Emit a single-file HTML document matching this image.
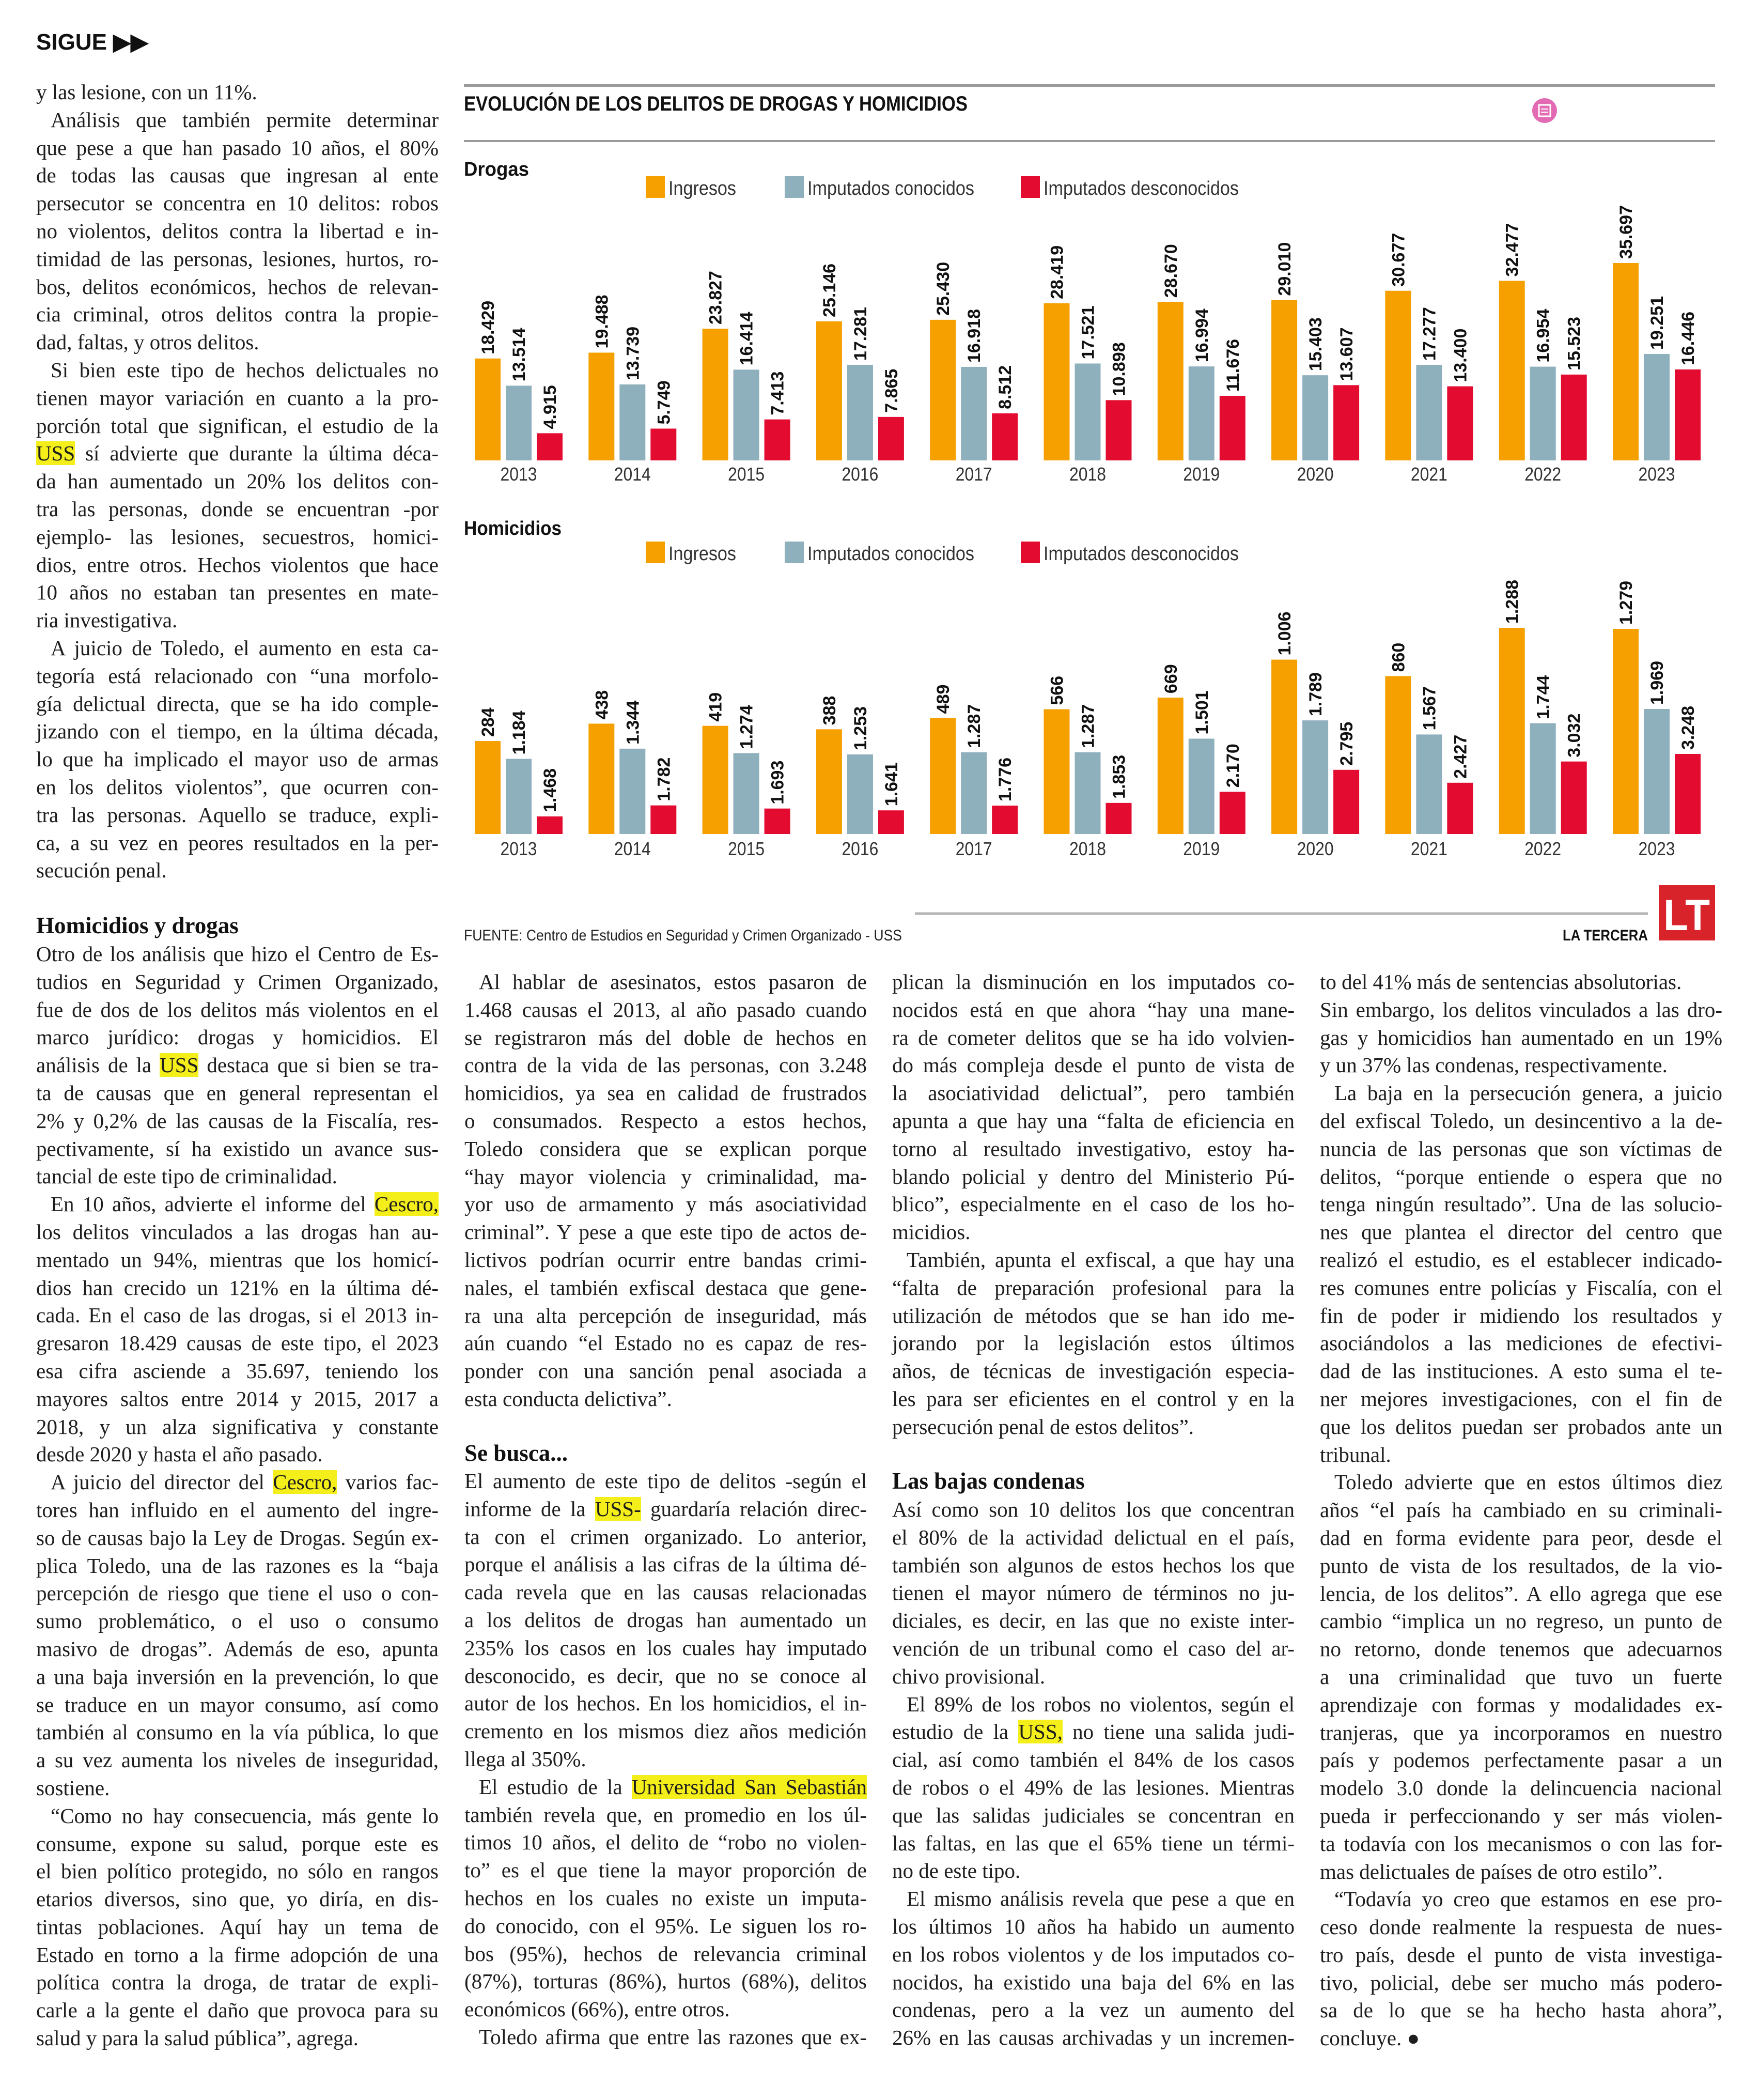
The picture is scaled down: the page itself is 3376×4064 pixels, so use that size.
<!DOCTYPE html>
<html><head><meta charset="utf-8">
<style>
html,body{margin:0;padding:0;background:#fff;}
body{width:3376px;height:4064px;position:relative;overflow:hidden;}
.col{position:absolute;width:779px;font:41px/53.8px "Liberation Serif",serif;color:#1e1e1e;}
.l{white-space:nowrap;text-align:justify;text-align-last:justify;height:53.8px;}
.e{text-align-last:left;}
.i{text-indent:28px;}
.hl{background:#f4ee1a;}
.h{position:absolute;font:bold 45px "Liberation Serif",serif;color:#111;}
svg text{font-family:"Liberation Sans",sans-serif;}
</style></head>
<body>
<div style="position:absolute;left:70px;top:56px;font:bold 44px 'Liberation Sans',sans-serif;color:#111;">SIGUE ▶▶</div>

<div class="col" style="left:70px;top:152px;">
<div class="l e">y las lesione, con un 11%.</div>
<div class="l i">Análisis que también permite determinar</div>
<div class="l">que pese a que han pasado 10 años, el 80%</div>
<div class="l">de todas las causas que ingresan al ente</div>
<div class="l">persecutor se concentra en 10 delitos: robos</div>
<div class="l">no violentos, delitos contra la libertad e in-</div>
<div class="l">timidad de las personas, lesiones, hurtos, ro-</div>
<div class="l">bos, delitos económicos, hechos de relevan-</div>
<div class="l">cia criminal, otros delitos contra la propie-</div>
<div class="l e">dad, faltas, y otros delitos.</div>
<div class="l i">Si bien este tipo de hechos delictuales no</div>
<div class="l">tienen mayor variación en cuanto a la pro-</div>
<div class="l">porción total que significan, el estudio de la</div>
<div class="l"><span class="hl">USS</span> sí advierte que durante la última déca-</div>
<div class="l">da han aumentado un 20% los delitos con-</div>
<div class="l">tra las personas, donde se encuentran -por</div>
<div class="l">ejemplo- las lesiones, secuestros, homici-</div>
<div class="l">dios, entre otros. Hechos violentos que hace</div>
<div class="l">10 años no estaban tan presentes en mate-</div>
<div class="l e">ria investigativa.</div>
<div class="l i">A juicio de Toledo, el aumento en esta ca-</div>
<div class="l">tegoría está relacionado con “una morfolo-</div>
<div class="l">gía delictual directa, que se ha ido comple-</div>
<div class="l">jizando con el tiempo, en la última década,</div>
<div class="l">lo que ha implicado el mayor uso de armas</div>
<div class="l">en los delitos violentos”, que ocurren con-</div>
<div class="l">tra las personas. Aquello se traduce, expli-</div>
<div class="l">ca, a su vez en peores resultados en la per-</div>
<div class="l e">secución penal.</div>
</div>

<div class="h" style="left:70px;top:1765px;">Homicidios y drogas</div>
<div class="col" style="left:70px;top:1820px;">
<div class="l">Otro de los análisis que hizo el Centro de Es-</div>
<div class="l">tudios en Seguridad y Crimen Organizado,</div>
<div class="l">fue de dos de los delitos más violentos en el</div>
<div class="l">marco jurídico: drogas y homicidios. El</div>
<div class="l">análisis de la <span class="hl">USS</span> destaca que si bien se tra-</div>
<div class="l">ta de causas que en general representan el</div>
<div class="l">2% y 0,2% de las causas de la Fiscalía, res-</div>
<div class="l">pectivamente, sí ha existido un avance sus-</div>
<div class="l e">tancial de este tipo de criminalidad.</div>
<div class="l i">En 10 años, advierte el informe del <span class="hl">Cescro,</span></div>
<div class="l">los delitos vinculados a las drogas han au-</div>
<div class="l">mentado un 94%, mientras que los homicí-</div>
<div class="l">dios han crecido un 121% en la última dé-</div>
<div class="l">cada. En el caso de las drogas, si el 2013 in-</div>
<div class="l">gresaron 18.429 causas de este tipo, el 2023</div>
<div class="l">esa cifra asciende a 35.697, teniendo los</div>
<div class="l">mayores saltos entre 2014 y 2015, 2017 a</div>
<div class="l">2018, y un alza significativa y constante</div>
<div class="l e">desde 2020 y hasta el año pasado.</div>
<div class="l i">A juicio del director del <span class="hl">Cescro,</span> varios fac-</div>
<div class="l">tores han influido en el aumento del ingre-</div>
<div class="l">so de causas bajo la Ley de Drogas. Según ex-</div>
<div class="l">plica Toledo, una de las razones es la “baja</div>
<div class="l">percepción de riesgo que tiene el uso o con-</div>
<div class="l">sumo problemático, o el uso o consumo</div>
<div class="l">masivo de drogas”. Además de eso, apunta</div>
<div class="l">a una baja inversión en la prevención, lo que</div>
<div class="l">se traduce en un mayor consumo, así como</div>
<div class="l">también al consumo en la vía pública, lo que</div>
<div class="l">a su vez aumenta los niveles de inseguridad,</div>
<div class="l e">sostiene.</div>
<div class="l i">“Como no hay consecuencia, más gente lo</div>
<div class="l">consume, expone su salud, porque este es</div>
<div class="l">el bien político protegido, no sólo en rangos</div>
<div class="l">etarios diversos, sino que, yo diría, en dis-</div>
<div class="l">tintas poblaciones. Aquí hay un tema de</div>
<div class="l">Estado en torno a la firme adopción de una</div>
<div class="l">política contra la droga, de tratar de expli-</div>
<div class="l">carle a la gente el daño que provoca para su</div>
<div class="l e">salud y para la salud pública”, agrega.</div>
</div>

<div class="col" style="left:899px;top:1874px;">
<div class="l i">Al hablar de asesinatos, estos pasaron de</div>
<div class="l">1.468 causas el 2013, al año pasado cuando</div>
<div class="l">se registraron más del doble de hechos en</div>
<div class="l">contra de la vida de las personas, con 3.248</div>
<div class="l">homicidios, ya sea en calidad de frustrados</div>
<div class="l">o consumados. Respecto a estos hechos,</div>
<div class="l">Toledo considera que se explican porque</div>
<div class="l">“hay mayor violencia y criminalidad, ma-</div>
<div class="l">yor uso de armamento y más asociatividad</div>
<div class="l">criminal”. Y pese a que este tipo de actos de-</div>
<div class="l">lictivos podrían ocurrir entre bandas crimi-</div>
<div class="l">nales, el también exfiscal destaca que gene-</div>
<div class="l">ra una alta percepción de inseguridad, más</div>
<div class="l">aún cuando “el Estado no es capaz de res-</div>
<div class="l">ponder con una sanción penal asociada a</div>
<div class="l e">esta conducta delictiva”.</div>
</div>
<div class="h" style="left:899px;top:2786px;">Se busca...</div>
<div class="col" style="left:899px;top:2840px;">
<div class="l">El aumento de este tipo de delitos -según el</div>
<div class="l">informe de la <span class="hl">USS-</span> guardaría relación direc-</div>
<div class="l">ta con el crimen organizado. Lo anterior,</div>
<div class="l">porque el análisis a las cifras de la última dé-</div>
<div class="l">cada revela que en las causas relacionadas</div>
<div class="l">a los delitos de drogas han aumentado un</div>
<div class="l">235% los casos en los cuales hay imputado</div>
<div class="l">desconocido, es decir, que no se conoce al</div>
<div class="l">autor de los hechos. En los homicidios, el in-</div>
<div class="l">cremento en los mismos diez años medición</div>
<div class="l e">llega al 350%.</div>
<div class="l i">El estudio de la <span class="hl">Universidad San Sebastián</span></div>
<div class="l">también revela que, en promedio en los úl-</div>
<div class="l">timos 10 años, el delito de “robo no violen-</div>
<div class="l">to” es el que tiene la mayor proporción de</div>
<div class="l">hechos en los cuales no existe un imputa-</div>
<div class="l">do conocido, con el 95%. Le siguen los ro-</div>
<div class="l">bos (95%), hechos de relevancia criminal</div>
<div class="l">(87%), torturas (86%), hurtos (68%), delitos</div>
<div class="l e">económicos (66%), entre otros.</div>
<div class="l i">Toledo afirma que entre las razones que ex-</div>
</div>

<div class="col" style="left:1727px;top:1874px;">
<div class="l">plican la disminución en los imputados co-</div>
<div class="l">nocidos está en que ahora “hay una mane-</div>
<div class="l">ra de cometer delitos que se ha ido volvien-</div>
<div class="l">do más compleja desde el punto de vista de</div>
<div class="l">la asociatividad delictual”, pero también</div>
<div class="l">apunta a que hay una “falta de eficiencia en</div>
<div class="l">torno al resultado investigativo, estoy ha-</div>
<div class="l">blando policial y dentro del Ministerio Pú-</div>
<div class="l">blico”, especialmente en el caso de los ho-</div>
<div class="l e">micidios.</div>
<div class="l i">También, apunta el exfiscal, a que hay una</div>
<div class="l">“falta de preparación profesional para la</div>
<div class="l">utilización de métodos que se han ido me-</div>
<div class="l">jorando por la legislación estos últimos</div>
<div class="l">años, de técnicas de investigación especia-</div>
<div class="l">les para ser eficientes en el control y en la</div>
<div class="l e">persecución penal de estos delitos”.</div>
</div>
<div class="h" style="left:1727px;top:2840px;">Las bajas condenas</div>
<div class="col" style="left:1727px;top:2895px;">
<div class="l">Así como son 10 delitos los que concentran</div>
<div class="l">el 80% de la actividad delictual en el país,</div>
<div class="l">también son algunos de estos hechos los que</div>
<div class="l">tienen el mayor número de términos no ju-</div>
<div class="l">diciales, es decir, en las que no existe inter-</div>
<div class="l">vención de un tribunal como el caso del ar-</div>
<div class="l e">chivo provisional.</div>
<div class="l i">El 89% de los robos no violentos, según el</div>
<div class="l">estudio de la <span class="hl">USS,</span> no tiene una salida judi-</div>
<div class="l">cial, así como también el 84% de los casos</div>
<div class="l">de robos o el 49% de las lesiones. Mientras</div>
<div class="l">que las salidas judiciales se concentran en</div>
<div class="l">las faltas, en las que el 65% tiene un térmi-</div>
<div class="l e">no de este tipo.</div>
<div class="l i">El mismo análisis revela que pese a que en</div>
<div class="l">los últimos 10 años ha habido un aumento</div>
<div class="l">en los robos violentos y de los imputados co-</div>
<div class="l">nocidos, ha existido una baja del 6% en las</div>
<div class="l">condenas, pero a la vez un aumento del</div>
<div class="l">26% en las causas archivadas y un incremen-</div>
</div>

<div class="col" style="left:2555px;top:1874px;">
<div class="l e">to del 41% más de sentencias absolutorias.</div>
<div class="l">Sin embargo, los delitos vinculados a las dro-</div>
<div class="l">gas y homicidios han aumentado en un 19%</div>
<div class="l e">y un 37% las condenas, respectivamente.</div>
<div class="l i">La baja en la persecución genera, a juicio</div>
<div class="l">del exfiscal Toledo, un desincentivo a la de-</div>
<div class="l">nuncia de las personas que son víctimas de</div>
<div class="l">delitos, “porque entiende o espera que no</div>
<div class="l">tenga ningún resultado”. Una de las solucio-</div>
<div class="l">nes que plantea el director del centro que</div>
<div class="l">realizó el estudio, es el establecer indicado-</div>
<div class="l">res comunes entre policías y Fiscalía, con el</div>
<div class="l">fin de poder ir midiendo los resultados y</div>
<div class="l">asociándolos a las mediciones de efectivi-</div>
<div class="l">dad de las instituciones. A esto suma el te-</div>
<div class="l">ner mejores investigaciones, con el fin de</div>
<div class="l">que los delitos puedan ser probados ante un</div>
<div class="l e">tribunal.</div>
<div class="l i">Toledo advierte que en estos últimos diez</div>
<div class="l">años “el país ha cambiado en su criminali-</div>
<div class="l">dad en forma evidente para peor, desde el</div>
<div class="l">punto de vista de los resultados, de la vio-</div>
<div class="l">lencia, de los delitos”. A ello agrega que ese</div>
<div class="l">cambio “implica un no regreso, un punto de</div>
<div class="l">no retorno, donde tenemos que adecuarnos</div>
<div class="l">a una criminalidad que tuvo un fuerte</div>
<div class="l">aprendizaje con formas y modalidades ex-</div>
<div class="l">tranjeras, que ya incorporamos en nuestro</div>
<div class="l">país y podemos perfectamente pasar a un</div>
<div class="l">modelo 3.0 donde la delincuencia nacional</div>
<div class="l">pueda ir perfeccionando y ser más violen-</div>
<div class="l">ta todavía con los mecanismos o con las for-</div>
<div class="l e">mas delictuales de países de otro estilo”.</div>
<div class="l i">“Todavía yo creo que estamos en ese pro-</div>
<div class="l">ceso donde realmente la respuesta de nues-</div>
<div class="l">tro país, desde el punto de vista investiga-</div>
<div class="l">tivo, policial, debe ser mucho más podero-</div>
<div class="l">sa de lo que se ha hecho hasta ahora”,</div>
<div class="l e">concluye. ●</div>
</div>

<svg id="chart" width="3376" height="4064" style="position:absolute;left:0;top:0;" xmlns="http://www.w3.org/2000/svg">
<rect x="898" y="163" width="2422" height="5" fill="#9a9a9a"/>
<rect x="898" y="271" width="2422" height="4" fill="#9a9a9a"/>
<text x="898" y="214" font-size="40" font-weight="bold" fill="#111" textLength="975" lengthAdjust="spacingAndGlyphs">EVOLUCIÓN DE LOS DELITOS DE DROGAS Y HOMICIDIOS</text>
<g><circle cx="2990" cy="214" r="24" fill="#e36bb4"/><rect x="2979" y="203" width="22" height="22" fill="none" stroke="#fff" stroke-width="3"/><line x1="2983" y1="211" x2="2997" y2="211" stroke="#fff" stroke-width="2"/><line x1="2983" y1="217" x2="2997" y2="217" stroke="#fff" stroke-width="2"/></g>
<text x="898" y="340" font-size="38" font-weight="bold" fill="#111" textLength="126" lengthAdjust="spacingAndGlyphs">Drogas</text>
<text x="898" y="1035" font-size="38" font-weight="bold" fill="#111" textLength="189" lengthAdjust="spacingAndGlyphs">Homicidios</text>
<line x1="1771" y1="1768" x2="3190" y2="1768" stroke="#b5b5b5" stroke-width="5"/>
<text x="898" y="1820" font-size="30" fill="#222" textLength="848" lengthAdjust="spacingAndGlyphs">FUENTE: Centro de Estudios en Seguridad y Crimen Organizado - USS</text>
<text x="3025" y="1820" font-size="30" font-weight="bold" fill="#111" textLength="165" lengthAdjust="spacingAndGlyphs">LA TERCERA</text>
<g><rect x="3211" y="1713" width="109" height="107" fill="#d8232a"/><text x="3265" y="1800" font-size="84" font-weight="bold" fill="#fff" text-anchor="middle" textLength="90" lengthAdjust="spacingAndGlyphs">LT</text></g>
<g id="plots"></g>
</svg>

<script>
const years = ["2013","2014","2015","2016","2017","2018","2019","2020","2021","2022","2023"];
const seriesNames = ["Ingresos","Imputados conocidos","Imputados desconocidos"];
const drugIngresos = [18429,19488,23827,25146,25430,28419,28670,29010,30677,32477,35697];
const drugConocidos = [13514,13739,16414,17281,16918,17521,16994,15403,17277,16954,19251];
const drugDesconocidos = [4915,5749,7413,7865,8512,10898,11676,13607,13400,15523,16446];
const homIngresos = [284,438,419,388,489,566,669,1006,860,1288,1279];
const homConocidos = [1184,1344,1274,1253,1287,1287,1501,1789,1567,1744,1969];
const homDesconocidos = [1468,1782,1693,1641,1776,1853,2170,2795,2427,3032,3248];

const NS = "http://www.w3.org/2000/svg";
const colors = ["#f6a000","#8eafbc","#e30b30"];
const plots = document.getElementById('plots');
function fmt(v){return v>=1000?String(Math.floor(v/1000))+"."+String(v%1000).padStart(3,"0"):String(v);}
function lin(d0,d1,r0,r1){return v=>r0+(v-d0)*(r1-r0)/(d1-d0);}
function xGroup(i){return 919+i*220.3;}
function xBar(i,s){return xGroup(i)+s*60;}
const BW = 50;

function mk(tag,attrs){const e=document.createElementNS(NS,tag);for(const k in attrs)e.setAttribute(k,attrs[k]);return e;}

function legend(y,name){
  const g=mk('g',{});
  
  
  const sx=[1250,1519,1976], tl=[131,323,378];
  for(let s=0;s<3;s++){
    const r=mk('rect',{x:sx[s],y:y-22,width:37,height:42,fill:colors[s]});
    
    
    g.appendChild(r);
    const t=mk('text',{x:sx[s]+44,y:y+14,'font-size':38,fill:'#333',textLength:tl[s],lengthAdjust:'spacingAndGlyphs'});
    t.textContent=seriesNames[s];
    
    
    g.appendChild(t);
  }
  plots.appendChild(g);
}

function panel(base,yearY,data,scales,name){
  const g=mk('g',{});
  
  
  for(let i=0;i<years.length;i++){
    for(let s=0;s<3;s++){
      const v=data[s][i];
      const top=scales[s](v);
      const x=xBar(i,s);
      const r=mk('rect',{x:x,y:top,width:BW,height:base-top,fill:colors[s]});
      
      
      g.appendChild(r);
      const lx=x+BW/2+12, ly=top-8;
      const t=mk('text',{x:lx,y:ly,'font-size':34,'font-weight':'bold',fill:'#111',transform:'rotate(-90 '+lx+' '+ly+')'});
      t.textContent=fmt(v);
      
      
      g.appendChild(t);
    }
    const yt=mk('text',{x:xGroup(i)+85,y:yearY,'font-size':36,fill:'#333','text-anchor':'middle',textLength:71,lengthAdjust:'spacingAndGlyphs'});
    yt.textContent=years[i];
    
    
    g.appendChild(yt);
  }
  plots.appendChild(g);
}

legend(363,'drogas-legend');
legend(1070,'homicidios-legend');

const dBase=891;
const dScale=lin(0,35697,dBase,dBase-382);
panel(dBase,930,[drugIngresos,drugConocidos,drugDesconocidos],[dScale,dScale,dScale],'drogas-bars');

const hBase=1614;
const hIng=lin(0,1279,hBase-118,hBase-397);
const hCon=lin(0,1969,hBase,hBase-242);
const hDes=lin(1468,3248,hBase-34,hBase-155);
panel(hBase,1655,[homIngresos,homConocidos,homDesconocidos],[hIng,hCon,hDes],'homicidios-bars');
</script>
</body></html>
